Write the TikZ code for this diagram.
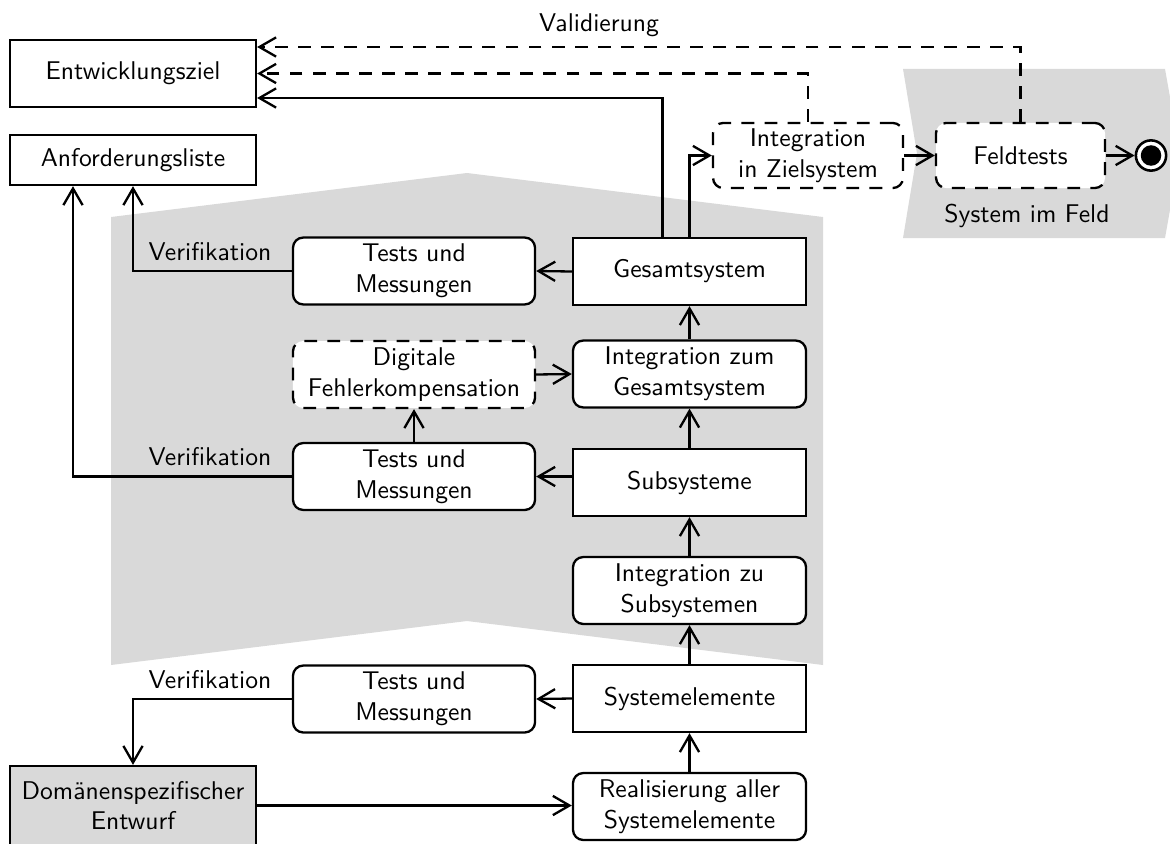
\documentclass[tikz,border=0pt]{standalone}
\usetikzlibrary{arrows.meta,calc}
\begin{document}
\begin{tikzpicture}[x=0.39pt,y=-0.39pt,
  conn/.style={line width=0.9pt},
  arr/.style={conn,-{Straight Barb[length=6.5pt,width=7.5pt]}},
  dsh/.style={dash pattern=on 5pt off 4pt},
  box/.style={draw,line width=0.9pt,fill=white,font=\sffamily,align=center,inner sep=0pt},
  rbox/.style={box,rounded corners=4pt},
  dbox/.style={rbox,dsh},
  colR/.style={minimum width=90.9pt,minimum height=26.1pt},
  colL/.style={minimum width=94.4pt,minimum height=26.1pt},
  lbl/.style={font=\sffamily,inner sep=0pt,anchor=base east},
  txt/.style={font=\sffamily,inner sep=0pt},
  area/.style={fill=black!15}]

\clip (0,0) rectangle (1170,843);

% shaded phases
\fill[area] (111,217) -- (467,173) -- (823,217) -- (823,665) -- (467,621) -- (111,665) -- cycle;
\fill[area] (903,69) -- (1165,69) -- (1180,153.5) -- (1165,238) -- (903,238) -- (917,153.5) -- cycle;

% left column
\node[box,minimum width=95.9pt,minimum height=26.1pt] (ez) at (133,73.5) {Entwicklungsziel};
\node[box,minimum width=95.9pt,minimum height=19.5pt] (anf) at (133,160) {Anforderungsliste};
\node[box,fill=black!15,minimum width=95.9pt,minimum height=30.8pt] (dom) at (133,805.5) {Domänenspezifischer\\Entwurf};

% test column
\node[rbox,colL] (t1) at (414,271) {Tests und\\Messungen};
\node[dbox,colL] (dig) at (414,374.5) {Digitale\\Fehlerkompensation};
\node[rbox,colL] (t2) at (414,476.5) {Tests und\\Messungen};
\node[rbox,colL] (t3) at (414,699) {Tests und\\Messungen};

% system column
\node[box,colR] (gs) at (689.5,271.5) {Gesamtsystem};
\node[rbox,colR] (izg) at (689.5,374) {Integration zum\\Gesamtsystem};
\node[box,colR] (sub) at (689.5,482.5) {Subsysteme};
\node[rbox,colR] (izu) at (689.5,590.5) {Integration zu\\Subsystemen};
\node[box,colR] (se) at (689.5,698.5) {Systemelemente};
\node[rbox,colR] (real) at (689.5,806.5) {Realisierung aller\\Systemelemente};

% field phase
\node[dbox,minimum width=74.1pt,minimum height=25.4pt] (izs) at (808,155.5) {Integration\\in Zielsystem};
\node[dbox,minimum width=65.9pt,minimum height=25.4pt] (feld) at (1020.5,155.5) {Feldtests};
\node[txt] (feldlbl) at (1027,216) {System im Feld};
\node[circle,draw,line width=1pt,fill=white,minimum size=11.8pt,inner sep=0pt] (end) at (1151,155.5) {};
\node[circle,fill=black,minimum size=8pt,inner sep=0pt] (enddot) at (end) {};

% upward integration chain
\draw[arr] (real.north) -- (se.south);
\draw[arr] (se.north) -- (izu.south);
\draw[arr] (izu.north) -- (sub.south);
\draw[arr] (sub.north) -- (izg.south);
\draw[arr] (izg.north) -- (gs.south);
\draw[arr] (dig.east) -- (izg.west);
\draw[arr] (dom.east) -- (real.west |- dom.east);

% tests
\draw[arr] (gs.west) -- (t1.east);
\draw[arr] (sub.west |- t2.east) -- (t2.east);
\draw[arr] (se.west) -- (t3.east);
\draw[arr] (t2.north) -- (dig.south);

% verification paths
\draw[arr] (t1.west) -| (anf.south);
\node[lbl] (v1) at ($(t1.west)+(-20,-11)$) {Verifikation};
\draw[arr] (t2.west) -| ($(anf.south)+(-60,0)$);
\node[lbl] (v2) at ($(t2.west)+(-20,-11)$) {Verifikation};
\draw[arr] (t3.west) -| (dom.north);
\node[lbl] (v3) at ($(t3.west)+(-20,-11)$) {Verifikation};

% towards the target system and back
\draw[arr] ($(gs.north)+(-27,0)$) |- ($(ez.east)+(0,24.5)$);
\draw[arr] (gs.north) |- (izs.west);
\draw[arr,dsh] (izs.north) |- (ez.east);
\draw[arr,dsh] (feld.north) |- ($(ez.east)+(0,-26.5)$);
\node[txt] (val) at (599,25) {Validierung};
\draw[arr] (izs.east) -- (feld.west);
\draw[arr] (feld.east) -- (end.west);

\end{tikzpicture}
\end{document}
